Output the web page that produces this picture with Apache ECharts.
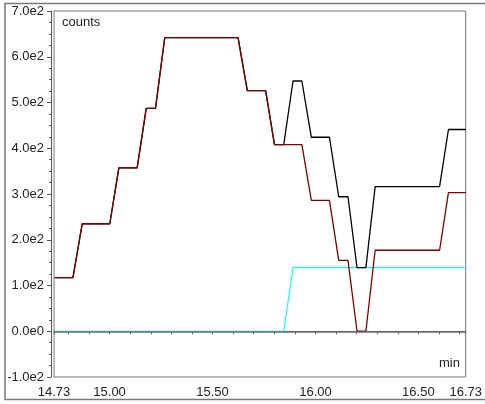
<!DOCTYPE html>
<html>
<head>
<meta charset="utf-8">
<script src="https://cdn.jsdelivr.net/npm/echarts@6/dist/echarts.min.js"></script>
<style>
html,body{margin:0;padding:0;background:#fff;}
#chart{width:485px;height:404px;}
</style>
</head>
<body>
<div id="chart"></div>
<script>
// retention time (min) of each vertex
var times = [14.733, 14.822, 14.867, 15.001, 15.045, 15.134, 15.178, 15.223, 15.268, 15.624, 15.669, 15.758, 15.801,
             15.846, 15.891, 15.934, 15.980, 16.068, 16.113, 16.158, 16.202, 16.245, 16.290, 16.603, 16.646, 16.73];
var totalCounts = [117, 117, 235, 235, 357, 357, 487, 487, 642, 642, 526, 526, 408,
                   408, 547, 547, 424, 424, 294, 294, 139, 139, 316, 316, 441, 441];
var redCounts   = [117, 117, 235, 235, 357, 357, 487, 487, 642, 642, 526, 526, 408,
                   408, 408, 408, 286, 286, 155, 155, 0, 0, 177, 177, 303, 303];
var cyanCounts  = [0, 0, 0, 0, 0, 0, 0, 0, 0, 0, 0, 0, 0,
                   0, 139, 139, 139, 139, 139, 139, 139, 139, 139, 139, 139, 139];
var xLabelValues = [14.73, 15.00, 15.50, 16.00, 16.50, 16.73];
var xTickValues = [14.73, 14.8, 14.9, 15.0, 15.1, 15.2, 15.3, 15.4, 15.5, 15.6, 15.7, 15.8, 15.9,
                   16.0, 16.1, 16.2, 16.3, 16.4, 16.5, 16.6, 16.7, 16.73];
var xMin = 14.73, xMax = 16.73;
var yMin = -100, yMax = 700;

function pairs(vals) {
  return times.map(function (t, i) { return [t, vals[i]]; });
}

var chart = echarts.init(document.getElementById('chart'), null, {renderer: 'canvas'});
var FONT = 'Liberation Sans, Arial, sans-serif';
var AX = '#555';

chart.setOption({
  animation: false,
  backgroundColor: '#fff',
  graphic: [
    {type: 'rect', shape: {x: 5, y: 3.5, width: 490, height: 396}, style: {fill: 'none', stroke: '#777', lineWidth: 1.5}, silent: true, z: -1},
    {type: 'text', left: 62, top: 16, style: {text: 'counts', font: '13px ' + FONT, fill: '#222'}},
    {type: 'text', left: 439, top: 357, style: {text: 'min', font: '13px ' + FONT, fill: '#222'}}
  ],
  grid: {left: 54, top: 11, right: 17, bottom: 27, show: true, borderColor: '#777', borderWidth: 1, backgroundColor: '#fff'},
  xAxis: {
    type: 'value', min: xMin, max: xMax, offset: 5,
    axisLine: {show: true, lineStyle: {color: AX, width: 1}},
    axisTick: {show: true, length: 3, inside: false, lineStyle: {color: AX}, customValues: xTickValues},
    axisLabel: {customValues: xLabelValues, margin: 4, color: '#222', fontSize: 13, fontFamily: FONT,
      formatter: function (v) { return v.toFixed(2); }},
    splitLine: {show: false}
  },
  yAxis: {
    type: 'value', min: yMin, max: yMax, interval: 100, offset: 3,
    axisLine: {show: true, lineStyle: {color: AX, width: 1}},
    axisTick: {show: true, length: 4, lineStyle: {color: AX}},
    minorTick: {show: true, splitNumber: 4, length: 2, lineStyle: {color: AX}},
    axisLabel: {margin: 7, color: '#222', fontSize: 13, fontFamily: FONT,
      formatter: function (v) { if (v === 0) return '0.0e0'; return (v / 100).toFixed(1) + 'e2'; }},
    splitLine: {show: false}
  },
  series: [
    {type: 'line', data: pairs(cyanCounts), symbol: 'none', lineStyle: {color: '#00ffff', width: 1.1}, z: 2},
    {type: 'line', data: pairs(totalCounts), symbol: 'none', lineStyle: {color: '#000000', width: 1.3}, z: 3},
    {type: 'line', data: pairs(redCounts), symbol: 'none', lineStyle: {color: '#800000', width: 1.3}, z: 4,
     markLine: {silent: true, z: 20, symbol: 'none', label: {show: false}, lineStyle: {color: '#66727d', type: 'solid', width: 1.6}, data: [{yAxis: 0}]}}
  ]
});
</script>
</body>
</html>
